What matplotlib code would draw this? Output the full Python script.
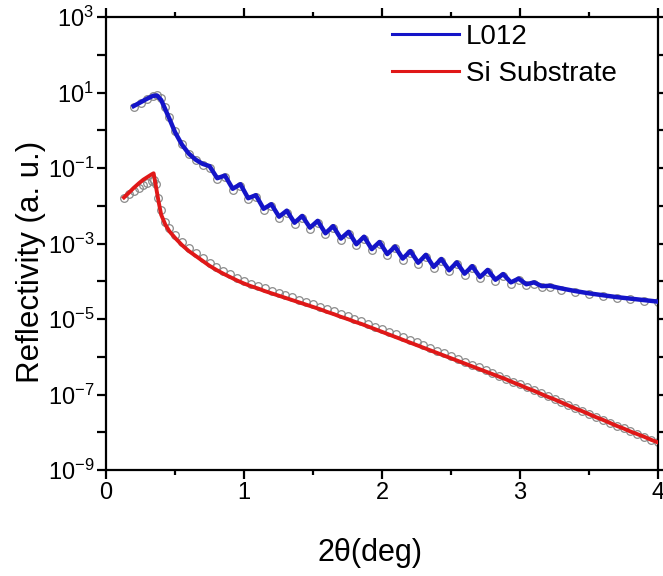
import matplotlib
matplotlib.use("Agg")
import matplotlib.pyplot as plt
import numpy as np
from matplotlib.lines import Line2D
from matplotlib.ticker import FixedLocator, FuncFormatter, MultipleLocator

plt.rcParams['font.family'] = ['Liberation Sans', 'DejaVu Sans']
plt.rcParams['mathtext.fontset'] = 'custom'
plt.rcParams['mathtext.rm'] = 'Liberation Sans'
plt.rcParams['mathtext.default'] = 'regular'

# ---------------- data (log10 of reflectivity) ----------------
l012_x = [0.20, 0.25, 0.30, 0.34, 0.37, 0.40, 0.43, 0.46, 0.50, 0.55, 0.60, 0.65, 0.70,
          0.750, 0.806, 0.862, 0.918, 0.974, 1.030, 1.086, 1.142, 1.198, 1.254,
          1.310, 1.366, 1.422, 1.478, 1.534, 1.590, 1.646, 1.702, 1.758, 1.814,
          1.870, 1.926, 1.982, 2.038, 2.094, 2.150, 2.206, 2.262, 2.318, 2.374,
          2.430, 2.486, 2.542, 2.598, 2.654, 2.710, 2.766, 2.822, 2.878, 2.934,
          2.990, 3.046, 3.102, 3.158, 3.214, 3.30, 3.40, 3.50, 3.60, 3.70, 3.80, 3.90, 4.00]
l012_fit_log = [0.64, 0.74, 0.84, 0.91, 0.92, 0.80, 0.55, 0.30, -0.05, -0.38, -0.62, -0.78, -0.89,
                -0.95, -1.27, -1.20, -1.55, -1.43, -1.80, -1.72, -2.08, -1.96, -2.29,
                -2.13, -2.45, -2.27, -2.58, -2.40, -2.73, -2.54, -2.87, -2.69, -3.02,
                -2.82, -3.15, -2.96, -3.28, -3.08, -3.40, -3.20, -3.51, -3.30, -3.62,
                -3.41, -3.71, -3.50, -3.80, -3.60, -3.89, -3.70, -3.96, -3.81, -4.03,
                -3.93, -4.08, -4.03, -4.13, -4.12, -4.19, -4.26, -4.32, -4.37, -4.42, -4.46, -4.50, -4.54]
l012_meas_log = [0.62, 0.73, 0.83, 0.90, 0.93, 0.86, 0.62, 0.34, -0.02, -0.36, -0.62, -0.80, -0.92,
                 -1.00, -1.30, -1.25, -1.58, -1.48, -1.83, -1.77, -2.11, -2.01, -2.32,
                 -2.18, -2.48, -2.32, -2.61, -2.45, -2.76, -2.59, -2.90, -2.74, -3.05,
                 -2.87, -3.18, -3.01, -3.31, -3.13, -3.43, -3.25, -3.54, -3.35, -3.65,
                 -3.46, -3.74, -3.55, -3.83, -3.65, -3.92, -3.75, -3.99, -3.86, -4.06,
                 -3.97, -4.11, -4.07, -4.16, -4.15, -4.22, -4.28, -4.34, -4.39, -4.44, -4.48, -4.52, -4.56]

si_x = [0.13, 0.17, 0.20, 0.24, 0.27, 0.30, 0.33, 0.345, 0.36, 0.38, 0.40, 0.43, 0.46,
        0.50, 0.55, 0.60, 0.65, 0.70, 0.75, 0.80, 0.85, 0.90, 0.95, 1.00,
        1.05, 1.10, 1.15, 1.20, 1.25, 1.30, 1.35, 1.40, 1.45, 1.50,
        1.55, 1.60, 1.65, 1.70, 1.75, 1.80, 1.85, 1.90, 1.95, 2.00,
        2.05, 2.10, 2.15, 2.20, 2.25, 2.30, 2.35, 2.40, 2.45, 2.50,
        2.55, 2.60, 2.65, 2.70, 2.75, 2.80, 2.85, 2.90, 2.95, 3.00,
        3.05, 3.10, 3.15, 3.20, 3.25, 3.30, 3.35, 3.40, 3.45, 3.50,
        3.55, 3.60, 3.65, 3.70, 3.75, 3.80, 3.85, 3.90, 3.95, 4.00]
si_fit_log = [-1.78, -1.64, -1.53, -1.40, -1.31, -1.24, -1.17, -1.14, -1.45, -1.87, -2.24, -2.50, -2.68,
              -2.85, -3.04, -3.20, -3.33, -3.46, -3.59, -3.70, -3.80, -3.89, -3.98, -4.06,
              -4.13, -4.19, -4.26, -4.32, -4.38, -4.44, -4.50, -4.56, -4.62, -4.68,
              -4.74, -4.81, -4.87, -4.94, -5.00, -5.07, -5.13, -5.20, -5.27, -5.34,
              -5.41, -5.48, -5.55, -5.62, -5.69, -5.76, -5.83, -5.90, -5.97, -6.04,
              -6.11, -6.18, -6.25, -6.32, -6.39, -6.46, -6.53, -6.60, -6.68, -6.75,
              -6.83, -6.90, -6.98, -7.06, -7.13, -7.21, -7.29, -7.37, -7.44, -7.52,
              -7.60, -7.67, -7.75, -7.83, -7.90, -7.98, -8.05, -8.12, -8.20, -8.27]
si_meas_log = [-1.80, -1.70, -1.62, -1.52, -1.45, -1.39, -1.34, -1.33, -1.42, -1.80, -2.12, -2.42, -2.60,
               -2.78, -2.97, -3.13, -3.26, -3.39, -3.52, -3.63, -3.73, -3.82, -3.91, -3.99,
               -4.06, -4.12, -4.19, -4.25, -4.31, -4.37, -4.43, -4.49, -4.55, -4.61,
               -4.67, -4.74, -4.80, -4.87, -4.93, -5.00, -5.06, -5.13, -5.20, -5.27,
               -5.34, -5.41, -5.48, -5.55, -5.62, -5.70, -5.77, -5.84, -5.91, -5.99,
               -6.06, -6.13, -6.21, -6.28, -6.36, -6.43, -6.51, -6.58, -6.66, -6.73,
               -6.81, -6.89, -6.97, -7.05, -7.12, -7.20, -7.28, -7.36, -7.44, -7.52,
               -7.60, -7.67, -7.75, -7.83, -7.90, -7.98, -8.05, -8.12, -8.20, -8.27]

legend_labels = ["L012", "Si Substrate"]
blue = "#1414c8"
red = "#e01818"
grey = "#8a8a8a"

# ---------------- figure ----------------
fig = plt.figure(figsize=(6.63, 5.76), dpi=100)
ax = fig.add_axes([106/663, 1 - 470/576, (658-106)/663, (470-17)/576])

def ten(v):
    return np.power(10.0, np.asarray(v, dtype=float))

ax.plot(l012_x, ten(l012_meas_log), ls='none', marker='o', ms=5.5, mfc='none',
        mec=grey, mew=0.9, zorder=2)
ax.plot(si_x, ten(si_meas_log), ls='none', marker='o', ms=5.5, mfc='none',
        mec=grey, mew=0.9, zorder=2)
ax.plot(l012_x, ten(l012_fit_log), color=blue, lw=3.2, solid_joinstyle='round', zorder=3)
ax.plot(si_x, ten(si_fit_log), color=red, lw=2.8, solid_joinstyle='round', zorder=3)

ax.set_yscale('log')
ax.set_xlim(0, 4)
ax.set_ylim(1e-9, 1e3)

ax.xaxis.set_major_locator(MultipleLocator(1))
ax.xaxis.set_minor_locator(MultipleLocator(0.5))
ax.xaxis.set_major_formatter(FuncFormatter(lambda v, p: f"{v:g}"))

ydec = list(range(-9, 4))
ax.yaxis.set_major_locator(FixedLocator([10.0**d for d in ydec]))
ax.yaxis.set_minor_locator(FixedLocator([]))
def yfmt(v, p):
    d = int(round(np.log10(v)))
    if d % 2 == 0:
        return ""
    return r"$10^{%d}$" % d
ax.yaxis.set_major_formatter(FuncFormatter(yfmt))

for s in ax.spines.values():
    s.set_linewidth(1.6)
ax.tick_params(which='both', direction='out', top=True, right=True, width=1.6,
               labelsize=17, colors='black')
ax.tick_params(which='major', length=6.5)
ax.tick_params(which='minor', length=3.5)
ax.tick_params(axis='x', pad=2)
ax.tick_params(axis='y', pad=2)

ax.set_xlabel("2\u03b8(deg)", fontsize=22)
ax.set_ylabel("Reflectivity (a. u.)", fontsize=22.5)
# label centres (axes fractions)
ax.xaxis.set_label_coords((370-106)/(658-106), -(553-470)/(470-17), transform=ax.transAxes)
ax.xaxis.label.set_va('center')
ax.yaxis.set_label_coords(-(106-31)/(658-106), (470-262)/(470-17), transform=ax.transAxes)
ax.yaxis.label.set_va('center')

handles = [Line2D([], [], color=blue, lw=2.2), Line2D([], [], color=red, lw=2.2)]
fig.legend(handles, legend_labels, loc='upper left', bbox_to_anchor=(392/663, 1 - 24/576),
           frameon=False, fontsize=20, handlelength=2.4, handletextpad=0.25,
           labelspacing=0.4, borderpad=0, borderaxespad=0)

fig.savefig("out.png", dpi=100)
